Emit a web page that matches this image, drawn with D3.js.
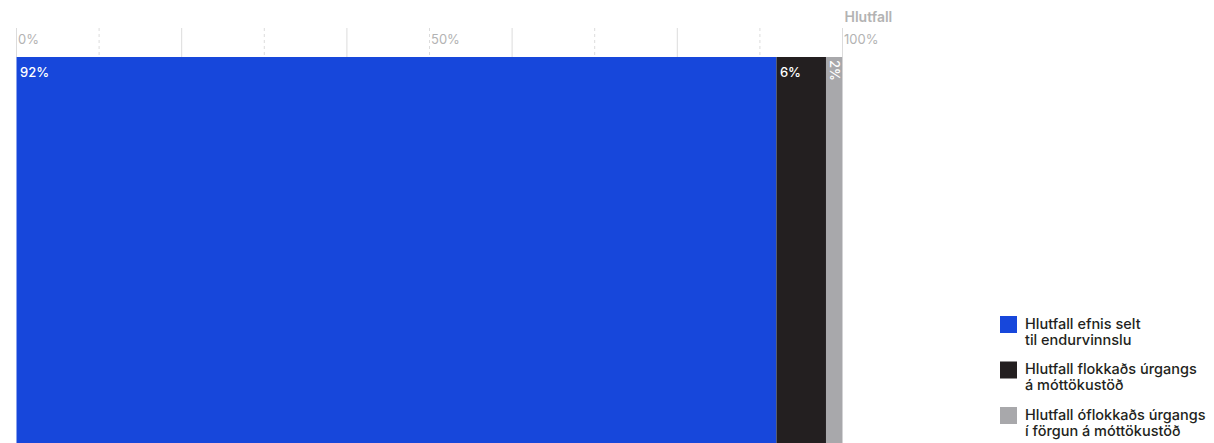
<!DOCTYPE html>
<html><head><meta charset="utf-8">
<script src="https://cdn.jsdelivr.net/npm/d3@7"></script>
<style>body{margin:0;background:#fff;overflow:hidden}svg{display:block;font-family:Inter,"Noto Sans",sans-serif}</style>
</head><body><svg id="c" width="1214" height="443"></svg>
<script>
const categories = ["Hlutfall efnis selt til endurvinnslu", "Hlutfall flokkaðs úrgangs á móttökustöð", "Hlutfall óflokkaðs úrgangs í förgun á móttökustöð"];
const legendLines = [["Hlutfall efnis selt", "til endurvinnslu"], ["Hlutfall flokkaðs úrgangs", "á móttökustöð"], ["Hlutfall óflokkaðs úrgangs", "í förgun á móttökustöð"]];
const values = [92, 6, 2];
const colors = ["#1747db", "#231f20", "#a8a8ab"];
const tickValues = [0, 10, 20, 30, 40, 50, 60, 70, 80, 90, 100];
const tickLabels = {0: "0%", 50: "50%", 100: "100%"};
const axisTitle = "Hlutfall";

const svg = d3.select("#c");
const x = d3.scaleLinear().domain([0, 100]).range([16.5, 842.5]);
const barTop = 57, barBottom = 460;

// grid
svg.append("g").selectAll("line").data(tickValues).join("line")
  .attr("x1", d => x(d)).attr("x2", d => x(d))
  .attr("y1", 28).attr("y2", barTop)
  .attr("stroke", "#dcdcdc").attr("stroke-width", 1)
  .attr("stroke-dasharray", d => (d / 10) % 2 === 1 ? "3,3" : null);

svg.append("g").selectAll("text").data(tickValues.filter(d => tickLabels[d])).join("text")
  .attr("x", d => x(d) + 1.5).attr("y", 43.5)
  .attr("font-size", 13).attr("fill", "#b3b3b3")
  .text(d => tickLabels[d]);

svg.append("text").attr("x", x(100) + 2).attr("y", 22)
  .attr("font-size", 14).attr("font-weight", 600).attr("fill", "#b3b3b3").text(axisTitle);

// stacked bar
let cum = 0;
const segs = values.map((v, i) => { const s = {v, i, x0: cum, x1: cum + v}; cum += v; return s; });
svg.append("g").selectAll("rect").data(segs).join("rect")
  .attr("x", d => x(d.x0)).attr("width", d => x(d.x1) - x(d.x0))
  .attr("y", barTop).attr("height", barBottom - barTop)
  .attr("fill", d => colors[d.i]);

segs.forEach(d => {
  if (d.v >= 5) {
    svg.append("text").attr("x", x(d.x0) + 3.5).attr("y", 77)
      .attr("font-size", 13).attr("font-weight", 500).attr("fill", "#fff").text(d.v + "%");
  } else {
    const cx = (x(d.x0) + x(d.x1)) / 2;
    svg.append("text").attr("transform", `translate(${cx - 4.5},60) rotate(90)`)
      .attr("font-size", 13).attr("font-weight", 500).attr("fill", "#fff").text(d.v + "%");
  }
});

// legend
const lg = svg.append("g").attr("transform", "translate(1000,316)");
legendLines.forEach((lines, i) => {
  const g = lg.append("g").attr("transform", `translate(0,${i * 45.5})`);
  g.append("rect").attr("width", 17).attr("height", 17).attr("fill", colors[i]);
  lines.forEach((t, j) => g.append("text").attr("x", 25).attr("y", 12.5 + j * 16)
    .attr("font-size", 14.5).attr("font-weight", 500).attr("fill", "#231f20").text(t));
});
</script></body></html>
